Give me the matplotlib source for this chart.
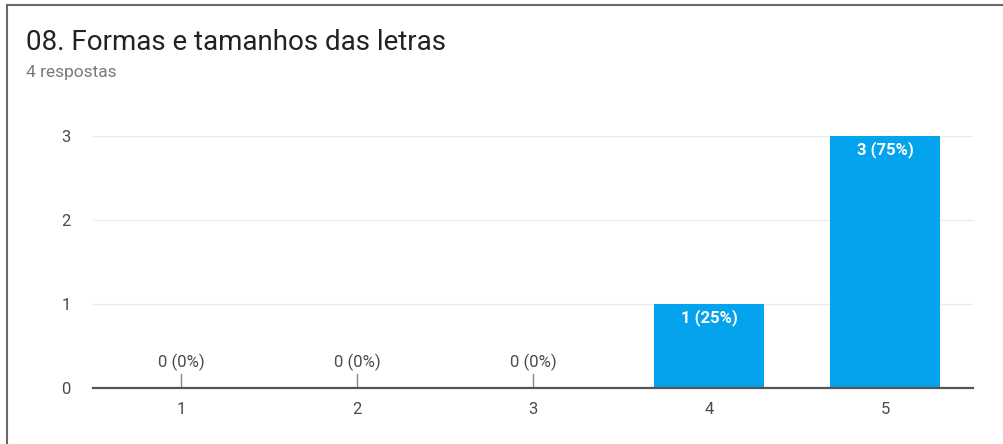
import matplotlib.pyplot as plt
from matplotlib.lines import Line2D

plt.rcParams['font.family'] = ['Roboto', 'DejaVu Sans']

categories = ["1", "2", "3", "4", "5"]
counts = [0, 0, 0, 1, 3]
total = 4
title = "08. Formas e tamanhos das letras"
subtitle = "4 respostas"

bar_color = "#03A3EE"

fig = plt.figure(figsize=(10.04, 4.44), dpi=100)
W, H = 1004, 444
# plot area in pixels: x 93..973, y 136..388
ax = fig.add_axes([93 / W, 1 - 388 / H, (973 - 93) / W, (388 - 136) / H])

x = list(range(1, len(categories) + 1))
ax.bar(x, counts, width=0.62, color=bar_color, zorder=2)

ax.set_xlim(0.5, 5.5)
ax.set_ylim(0, 3)
ax.set_yticks([0, 1, 2, 3])
ax.set_xticks(x)
ax.set_xticklabels(categories)
ax.yaxis.grid(True, color="#ebebeb", linewidth=1, zorder=0)
ax.set_axisbelow(True)
for s in ["top", "right", "left"]:
    ax.spines[s].set_visible(False)
ax.spines["bottom"].set_color("#555555")
ax.spines["bottom"].set_linewidth(1.6)
ax.spines["bottom"].set_zorder(3)
ax.tick_params(axis="both", length=0, labelsize=12, labelcolor="#4a4a4a")
ax.tick_params(axis="y", pad=16)
ax.tick_params(axis="x", pad=10)

for xi, c in zip(x, counts):
    label = "{} ({}%)".format(c, round(100 * c / total))
    if c == 0:
        ax.plot([xi, xi], [0, 0.17], color="#888888", linewidth=1, zorder=3)
        ax.text(xi, 0.2, label, ha="center", va="bottom", fontsize=12,
                color="#4a4a4a")
    else:
        ax.text(xi, c - 0.06, label, ha="center", va="top", fontsize=12,
                color="white", fontweight="bold")

fig.text(26 / W, 1 - 42 / H, title, fontsize=20, color="#222222",
         va="center", ha="left")
fig.text(26 / W, 1 - 72 / H, subtitle, fontsize=12.5, color="#7a7a7a",
         va="center", ha="left")

# frame of the screenshot card
fig.add_artist(Line2D([7 / W, 7 / W], [0, 1 - 5 / H], color="#6a6a6a",
                      linewidth=1.5, transform=fig.transFigure))
fig.add_artist(Line2D([7 / W, 1], [1 - 5 / H, 1 - 5 / H], color="#6a6a6a",
                      linewidth=1.5, transform=fig.transFigure))

fig.savefig("out.png", dpi=100)
